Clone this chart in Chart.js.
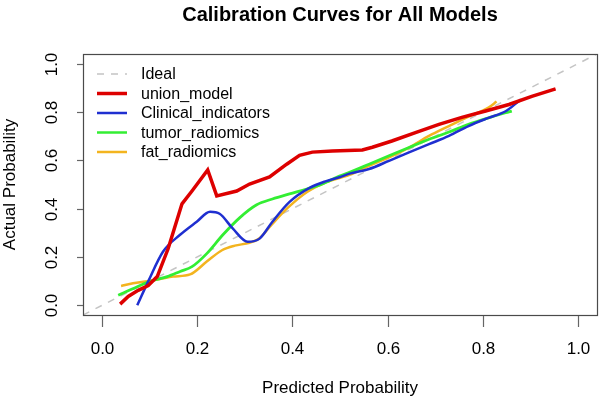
<!DOCTYPE html>
<html>
<head>
<meta charset="utf-8">
<script src="https://cdn.jsdelivr.net/npm/chart.js@4"></script>
<style>
  html, body { margin: 0; padding: 0; background: #fff; }
  canvas { display: block; }
</style>
</head>
<body>
<canvas id="calib" width="601" height="406"></canvas>
<script>
// Calibration curves

const TICKS = [0, 0.2, 0.4, 0.6, 0.8, 1.0];
const TICK_LABELS = ['0.0', '0.2', '0.4', '0.6', '0.8', '1.0'];

const idealX = [-0.04, 1.04];
const idealY = [-0.04, 1.04];

const unionX = [0.038, 0.055, 0.076, 0.097, 0.116, 0.139, 0.168, 0.189, 0.222, 0.241, 0.283, 0.310, 0.352, 0.388, 0.415, 0.442, 0.484, 0.547, 0.568, 0.609, 0.660, 0.708, 0.756, 0.806, 0.855, 0.903, 0.953];
const unionY = [0.005, 0.037, 0.062, 0.082, 0.119, 0.235, 0.420, 0.473, 0.560, 0.453, 0.473, 0.502, 0.531, 0.584, 0.621, 0.634, 0.639, 0.643, 0.654, 0.680, 0.716, 0.749, 0.778, 0.804, 0.831, 0.865, 0.896];

const clinicalX = [0.074, 0.097, 0.128, 0.164, 0.199, 0.227, 0.247, 0.275, 0.306, 0.331, 0.358, 0.394, 0.436, 0.471, 0.499, 0.520, 0.561, 0.603, 0.645, 0.687, 0.729, 0.770, 0.812, 0.848, 0.880];
const clinicalY = [0.000, 0.099, 0.222, 0.292, 0.346, 0.387, 0.379, 0.317, 0.263, 0.276, 0.346, 0.428, 0.486, 0.514, 0.530, 0.545, 0.564, 0.598, 0.633, 0.667, 0.701, 0.742, 0.776, 0.803, 0.852];

const tumorX = [0.034, 0.066, 0.101, 0.137, 0.164, 0.189, 0.220, 0.254, 0.289, 0.325, 0.358, 0.394, 0.430, 0.463, 0.499, 0.520, 0.561, 0.603, 0.645, 0.687, 0.729, 0.770, 0.812, 0.848, 0.861];
const tumorY = [0.042, 0.070, 0.099, 0.119, 0.140, 0.160, 0.214, 0.292, 0.362, 0.416, 0.440, 0.461, 0.481, 0.502, 0.535, 0.550, 0.584, 0.619, 0.653, 0.687, 0.717, 0.749, 0.776, 0.797, 0.804];

const fatX = [0.040, 0.065, 0.095, 0.122, 0.149, 0.185, 0.220, 0.252, 0.279, 0.310, 0.331, 0.356, 0.390, 0.430, 0.467, 0.499, 0.520, 0.561, 0.603, 0.645, 0.687, 0.729, 0.770, 0.812, 0.829];
const fatY = [0.080, 0.091, 0.100, 0.109, 0.119, 0.128, 0.181, 0.228, 0.247, 0.259, 0.278, 0.333, 0.403, 0.468, 0.506, 0.527, 0.540, 0.577, 0.612, 0.653, 0.701, 0.742, 0.781, 0.818, 0.843];

const SERIES_NAMES = ['Ideal', 'union_model', 'Clinical_indicators', 'tumor_radiomics', 'fat_radiomics'];

const FONT = "'Liberation Sans', Arial, sans-serif";
const COLORS = {
  ideal: '#c4c4c4',
  union: '#dd0000',
  clinical: '#1f2fd0',
  tumor: '#33ee33',
  fat: '#f3b41f',
};

const toPts = (xs, ys) => xs.map((x, i) => ({ x, y: ys[i] }));

// ── R-style frame, axes, titles and legend ───────────────────────────────
const baseGraphics = {
  id: 'baseGraphics',
  afterDraw(chart) {
    const { ctx, chartArea: a, scales } = chart;
    const sx = scales.x, sy = scales.y;
    ctx.save();

    // box
    ctx.strokeStyle = '#4a4a4a';
    ctx.lineWidth = 1.2;
    ctx.strokeRect(a.left + 0.5, a.top + 0.5, a.right - a.left, a.bottom - a.top);

    // x ticks + labels
    ctx.strokeStyle = '#666';
    ctx.lineWidth = 1.2;
    ctx.fillStyle = '#000';
    ctx.font = '17px ' + FONT;
    ctx.textAlign = 'center';
    ctx.textBaseline = 'middle';
    TICKS.forEach((t, i) => {
      const px = Math.round(sx.getPixelForValue(t)) + 0.5;
      ctx.beginPath();
      ctx.moveTo(px, a.bottom + 1);
      ctx.lineTo(px, a.bottom + 12);
      ctx.stroke();
      ctx.fillText(TICK_LABELS[i], px, a.bottom + 34);
    });

    // y ticks + rotated labels
    TICKS.forEach((t, i) => {
      const py = Math.round(sy.getPixelForValue(t)) + 0.5;
      ctx.beginPath();
      ctx.moveTo(a.left - 6, py);
      ctx.lineTo(a.left, py);
      ctx.stroke();
      ctx.save();
      ctx.translate(a.left - 31, py);
      ctx.rotate(-Math.PI / 2);
      ctx.fillText(TICK_LABELS[i], 0, 0);
      ctx.restore();
    });

    // axis titles
    const cx = (a.left + a.right) / 2;
    const cy = (a.top + a.bottom) / 2;
    ctx.fillText('Predicted Probability', cx, a.bottom + 73);
    ctx.save();
    ctx.translate(a.left - 73, cy);
    ctx.rotate(-Math.PI / 2);
    ctx.fillText('Actual Probability', 0, 0);
    ctx.restore();

    // main title
    ctx.font = 'bold 20px ' + FONT;
    ctx.fillText('Calibration Curves for All Models', cx, 15);

    // legend (top-left, no box)
    const legendColors = [COLORS.ideal, COLORS.union, COLORS.clinical, COLORS.tumor, COLORS.fat];
    const legendWidths = [1.5, 3.5, 2.5, 2.5, 2.5];
    ctx.font = '16px ' + FONT;
    ctx.textAlign = 'left';
    SERIES_NAMES.forEach((name, i) => {
      const y = a.top + 20 + i * 19.5;
      ctx.strokeStyle = legendColors[i];
      ctx.lineWidth = legendWidths[i];
      ctx.setLineDash(i === 0 ? [7, 7] : []);
      ctx.beginPath();
      ctx.moveTo(a.left + 14, y);
      ctx.lineTo(a.left + 44, y);
      ctx.stroke();
      ctx.setLineDash([]);
      ctx.fillStyle = '#000';
      ctx.fillText(name, a.left + 58, y + 1);
    });

    ctx.restore();
  },
};

new Chart(document.getElementById('calib').getContext('2d'), {
  type: 'line',
  data: {
    datasets: [
      {
        label: SERIES_NAMES[0],
        data: toPts(idealX, idealY),
        borderColor: COLORS.ideal,
        borderWidth: 1.5,
        borderDash: [7, 7],
        order: 5,
      },
      {
        label: SERIES_NAMES[4],
        data: toPts(fatX, fatY),
        borderColor: COLORS.fat,
        borderWidth: 2.5,
        cubicInterpolationMode: 'monotone',
        order: 4,
      },
      {
        label: SERIES_NAMES[3],
        data: toPts(tumorX, tumorY),
        borderColor: COLORS.tumor,
        borderWidth: 2.8,
        cubicInterpolationMode: 'monotone',
        order: 3,
      },
      {
        label: SERIES_NAMES[2],
        data: toPts(clinicalX, clinicalY),
        borderColor: COLORS.clinical,
        borderWidth: 2.5,
        cubicInterpolationMode: 'monotone',
        order: 2,
      },
      {
        label: SERIES_NAMES[1],
        data: toPts(unionX, unionY),
        borderColor: COLORS.union,
        borderWidth: 3.5,
        tension: 0,
        order: 1,
      },
    ],
  },
  options: {
    responsive: false,
    devicePixelRatio: 1,
    animation: false,
    layout: { padding: { left: 83, top: 54, right: 4, bottom: 91 } },
    elements: { point: { radius: 0 }, line: { fill: false, borderCapStyle: 'butt' } },
    plugins: { legend: { display: false }, tooltip: { enabled: false } },
    scales: {
      x: { type: 'linear', min: -0.04, max: 1.04, display: false },
      y: { type: 'linear', min: -0.04, max: 1.04, display: false },
    },
  },
  plugins: [baseGraphics],
});
</script>
</body>
</html>
